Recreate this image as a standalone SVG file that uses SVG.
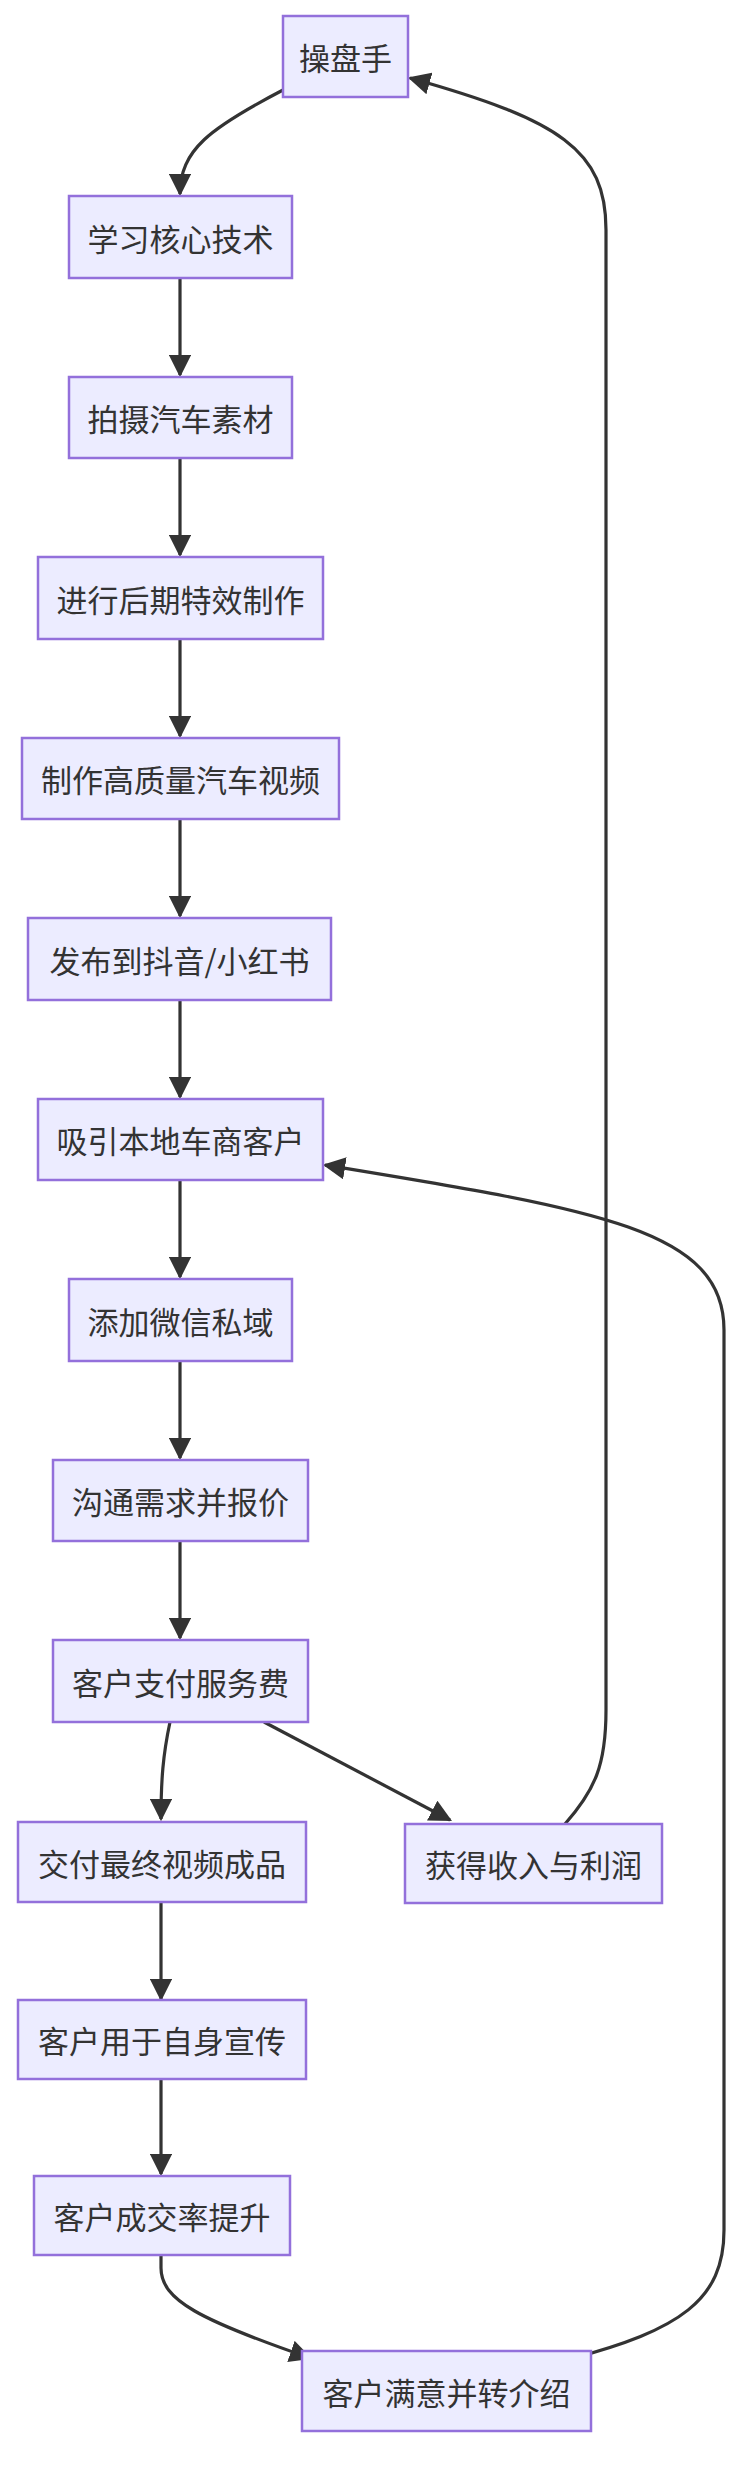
<svg xmlns="http://www.w3.org/2000/svg" width="744" height="2470" viewBox="0 0 744 2470">
<style>
.n rect{fill:#ECECFF;stroke:#9370DB;stroke-width:2.5}
.n text{font-family:"Noto Sans CJK SC","Liberation Sans",sans-serif;font-size:31px;fill:#333;text-anchor:middle;dominant-baseline:central}
.e path{fill:none;stroke:#333;stroke-width:3.2;marker-end:url(#a)}
</style>
<defs><marker id="a" viewBox="0 0 10 10" refX="9" refY="5" markerWidth="7" markerHeight="7" orient="auto" markerUnits="strokeWidth"><path d="M0,0L10,5L0,10z" fill="#333"/></marker></defs>
<rect width="744" height="2470" fill="#fff"/>
<g class="e">
<path d="M283,90 C210,128 180,150 180,194"/>
<path d="M180,278 V375"/>
<path d="M180,458 V555"/>
<path d="M180,639 V736"/>
<path d="M180,819 V916"/>
<path d="M180,1000 V1097"/>
<path d="M180,1180 V1277"/>
<path d="M180,1361 V1458"/>
<path d="M180,1541 V1638"/>
<path d="M170,1722 C163,1755 161,1780 161,1819"/>
<path d="M264,1722 L450,1820"/>
<path d="M565,1824 C595,1790 606,1765 606,1710 V230 C606,150 560,120 410,78"/>
<path d="M570,2359 C680,2330 724,2300 724,2230 V1330 C724,1230 600,1210 325,1165"/>
<path d="M161,2255 V2268 C161,2300 200,2320 310,2358"/>
<path d="M161,1902 V1999"/>
<path d="M161,2079 V2174"/>
</g>
<g class="n" id="n1"><rect x="283" y="16" width="125" height="81"/><text x="345.5" y="56.5">操盘手</text></g>
<g class="n" id="n2"><rect x="69" y="196" width="223" height="82"/><text x="180.5" y="237">学习核心技术</text></g>
<g class="n" id="n3"><rect x="69" y="377" width="223" height="81"/><text x="180.5" y="417.5">拍摄汽车素材</text></g>
<g class="n" id="n4"><rect x="38" y="557" width="285" height="82"/><text x="180.5" y="598">进行后期特效制作</text></g>
<g class="n" id="n5"><rect x="22" y="738" width="317" height="81"/><text x="180.5" y="778.5">制作高质量汽车视频</text></g>
<g class="n" id="n6"><rect x="28" y="918" width="303" height="82"/><text x="179.5" y="959">发布到抖音/小红书</text></g>
<g class="n" id="n7"><rect x="38" y="1099" width="285" height="81"/><text x="180.5" y="1139.5">吸引本地车商客户</text></g>
<g class="n" id="n8"><rect x="69" y="1279" width="223" height="82"/><text x="180.5" y="1320">添加微信私域</text></g>
<g class="n" id="n9"><rect x="53" y="1460" width="255" height="81"/><text x="180.5" y="1500.5">沟通需求并报价</text></g>
<g class="n" id="n10"><rect x="53" y="1640" width="255" height="82"/><text x="180.5" y="1681">客户支付服务费</text></g>
<g class="n" id="n11"><rect x="18" y="1822" width="288" height="80"/><text x="162" y="1862">交付最终视频成品</text></g>
<g class="n" id="n12"><rect x="405" y="1824" width="257" height="79"/><text x="533.5" y="1863.5">获得收入与利润</text></g>
<g class="n" id="n13"><rect x="18" y="2000" width="288" height="79"/><text x="162" y="2039.5">客户用于自身宣传</text></g>
<g class="n" id="n14"><rect x="34" y="2176" width="256" height="79"/><text x="162" y="2215.5">客户成交率提升</text></g>
<g class="n" id="n15"><rect x="302" y="2351" width="289" height="80"/><text x="446.5" y="2391">客户满意并转介绍</text></g>
</svg>
